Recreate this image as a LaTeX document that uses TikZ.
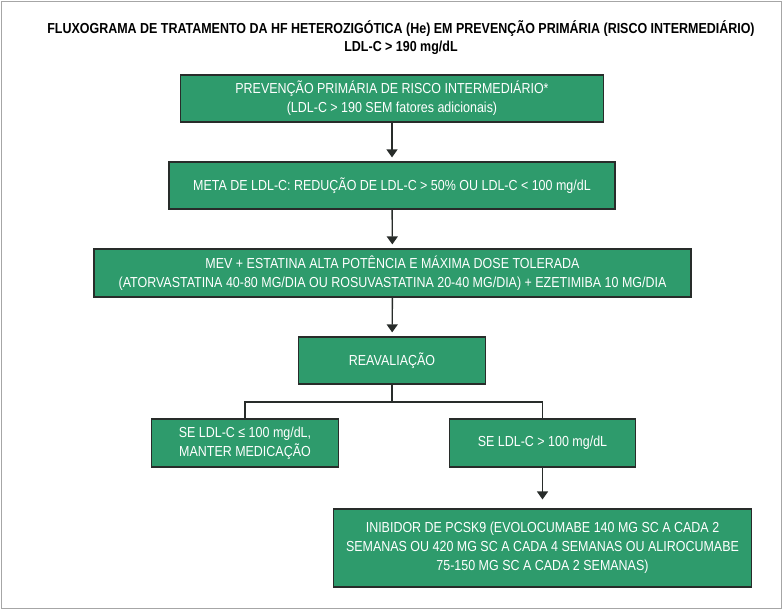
\documentclass[tikz,border=0pt]{standalone}
\usepackage{fontspec}
\setmainfont{Liberation Sans}[FakeStretch=0.86]
\usepackage{xcolor}
\usepackage{tikz}
\usetikzlibrary{arrows.meta}

\definecolor{boxgreen}{RGB}{46,155,108}
\definecolor{boxline}{RGB}{40,44,42}

\begin{document}
\begin{tikzpicture}[x=1bp, y=-1bp,
        fbox/.style={draw=boxline, line width=1.4bp, rectangle, fill=boxgreen, text=white,
            align=center, inner sep=0pt, font=\fontsize{14.5bp}{19bp}\selectfont},
        flow/.style={-{Triangle[width=11bp,length=8bp]}, line width=1.4bp, draw=boxline, shorten >=4bp},
        link/.style={line width=1.4bp, draw=boxline}]
        \useasboundingbox (0,0) rectangle (784,610);
        \draw[gray!70, line width=1bp] (1.5,1.5) rectangle (781,608);

        % Title
        \node[align=center, font=\bfseries\fontsize{14.5bp}{18bp}\selectfont] (title) at (401, 38)
            {FLUXOGRAMA DE TRATAMENTO DA HF HETEROZIGÓTICA (He) EM PREVENÇÃO PRIMÁRIA (RISCO INTERMEDIÁRIO)\\
             LDL-C > 190 mg/dL};

        % Main column
        \node[fbox, minimum width=424, minimum height=47] (prev) at (392, 98.5)
            {PREVENÇÃO PRIMÁRIA DE RISCO INTERMEDIÁRIO*\\(LDL-C > 190 SEM fatores adicionais)};
        \node[fbox, minimum width=448, minimum height=47] (meta) at (392, 185.5)
            {META DE LDL-C: REDUÇÃO DE LDL-C > 50\% OU LDL-C < 100 mg/dL};
        \node[fbox, minimum width=599, minimum height=48] (mev) at (392.5, 273)
            {MEV + ESTATINA ALTA POTÊNCIA E MÁXIMA DOSE TOLERADA\\(ATORVASTATINA 40-80 MG/DIA OU ROSUVASTATINA 20-40 MG/DIA) + EZETIMIBA 10 MG/DIA};
        \node[fbox, minimum width=188, minimum height=47] (reav) at (392, 360.5) {REAVALIAÇÃO};

        % Branches
        \node[fbox, minimum width=188, minimum height=48] (manter) at (245, 443)
            {SE LDL-C ≤ 100 mg/dL,\\MANTER MEDICAÇÃO};
        \node[fbox, minimum width=187, minimum height=48] (maior) at (542.5, 443) {SE LDL-C > 100 mg/dL};
        \node[fbox, minimum width=419, minimum height=78] (pcsk9) at (542.5, 548)
            {INIBIDOR DE PCSK9 (EVOLOCUMABE 140 MG SC A CADA 2\\SEMANAS OU 420 MG SC A CADA 4 SEMANAS OU ALIROCUMABE\\75-150 MG SC A CADA 2 SEMANAS)};

        % Connections
        \draw[flow] (prev) -- (meta);
        \draw[flow] (meta) -- (mev);
        \draw[flow] (mev) -- (reav);
        \coordinate (split) at (392, 402);
        \draw[link] (reav) -- (split);
        \draw[link] (split) -| (manter);
        \draw[link] (split) -| (maior);
        \draw[flow, shorten >=9bp] (maior) -- (pcsk9);
    \end{tikzpicture}
\end{document}
